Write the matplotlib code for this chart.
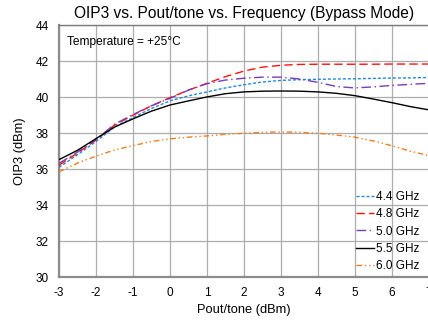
"""
OIP3 vs. Pout/tone vs. Frequency (Bypass Mode), T = +25 degC
"""

import matplotlib
matplotlib.use("Agg")
import matplotlib.pyplot as plt

plt.rcParams["font.family"] = ["Liberation Sans", "DejaVu Sans"]
plt.rcParams["axes.unicode_minus"] = False

# ── Data ──────────────────────────────────────────────────────────────────────

POUT = [-3, -2.5, -2, -1.5, -1, -0.5, 0, 0.5, 1, 1.5, 2, 2.5, 3,
        3.5, 4, 4.5, 5, 5.5, 6, 6.5, 7]

OIP3_4G4 = [36.10, 36.80, 37.54, 38.35, 38.87, 39.38, 39.80, 40.08, 40.30,
            40.52, 40.70, 40.85, 40.94, 40.98, 41.00, 41.02, 41.03, 41.05,
            41.07, 41.08, 41.10]
OIP3_4G8 = [36.22, 36.90, 37.62, 38.45, 39.00, 39.53, 39.98, 40.40, 40.78,
            41.15, 41.46, 41.68, 41.78, 41.83, 41.84, 41.84, 41.84, 41.84,
            41.85, 41.85, 41.85]
OIP3_5G0 = [36.32, 36.95, 37.65, 38.50, 39.04, 39.53, 39.94, 40.40, 40.76,
            40.96, 41.06, 41.12, 41.12, 41.02, 40.83, 40.60, 40.52, 40.58,
            40.66, 40.72, 40.78]
OIP3_5G5 = [36.53, 37.05, 37.70, 38.34, 38.80, 39.23, 39.57, 39.80, 40.02,
            40.20, 40.30, 40.34, 40.35, 40.34, 40.30, 40.22, 40.09, 39.90,
            39.70, 39.48, 39.30]
OIP3_6G0 = [35.85, 36.34, 36.72, 37.07, 37.31, 37.54, 37.69, 37.78, 37.85,
            37.94, 38.00, 38.05, 38.07, 38.05, 38.00, 37.90, 37.78, 37.57,
            37.30, 37.00, 36.75]

LABELS = ["4.4 GHz", "4.8 GHz", "5.0 GHz", "5.5 GHz", "6.0 GHz"]

X_TICKS = list(range(-3, 8))
Y_TICKS = list(range(30, 46, 2))

# ── Styles ────────────────────────────────────────────────────────────────────

COLORS = ["#2688D8", "#FF1010", "#7A3DB8", "#000000", "#F07E22"]
DASHES = [(0, (2.2, 1.4)),
          (0, (6, 3)),
          (0, (7, 2.5, 1, 2.5)),
          "-",
          (0, (4, 2, 1, 2, 1, 2))]

W, H = 428, 322


def main():
    fig = plt.figure(figsize=(W / 100, H / 100), dpi=100)
    ax = fig.add_axes([59 / W, 45 / H, 370 / W, 251.6 / H])

    series = [OIP3_4G4, OIP3_4G8, OIP3_5G0, OIP3_5G5, OIP3_6G0]
    for ys, lab, col, ls in zip(series, LABELS, COLORS, DASHES):
        ax.plot(POUT, ys, color=col, linestyle=ls, linewidth=1.0,
                label=lab, zorder=3)

    ax.set_xlim(-3, 7)
    ax.set_ylim(30, 44)
    ax.set_xticks(X_TICKS)
    ax.set_yticks(Y_TICKS)
    ax.tick_params(length=0, labelsize=8.5, pad=7.5, colors="#000000")

    ax.grid(True, color="#ADADAD", linewidth=0.9, zorder=0)
    for side in ["left", "bottom"]:
        ax.spines[side].set_color("#8C8C8C")
        ax.spines[side].set_linewidth(1.6)
    ax.spines["top"].set_color("#7A7A7A")
    ax.spines["top"].set_linewidth(1.0)
    ax.spines["right"].set_visible(False)

    ax.set_title("OIP3 vs. Pout/tone vs. Frequency (Bypass Mode)",
                 fontsize=11.2, pad=5)
    ax.set_xlabel("Pout/tone (dBm)", fontsize=9.3, labelpad=3)
    ax.set_ylabel("OIP3 (dBm)", fontsize=9.3, labelpad=7)

    ax.text(0.022, 0.934, "Temperature = +25°C", transform=ax.transAxes,
            fontsize=8.6, va="center", ha="left")

    ax.legend(loc="upper left", bbox_to_anchor=(356 / W, 1 - 191 / H),
              bbox_transform=fig.transFigure, frameon=False, fontsize=8.5,
              borderpad=0, borderaxespad=0, handlelength=1.5,
              handletextpad=0.2, labelspacing=0.45)

    fig.savefig("out.png", dpi=100)
    plt.close(fig)


if __name__ == "__main__":
    main()
